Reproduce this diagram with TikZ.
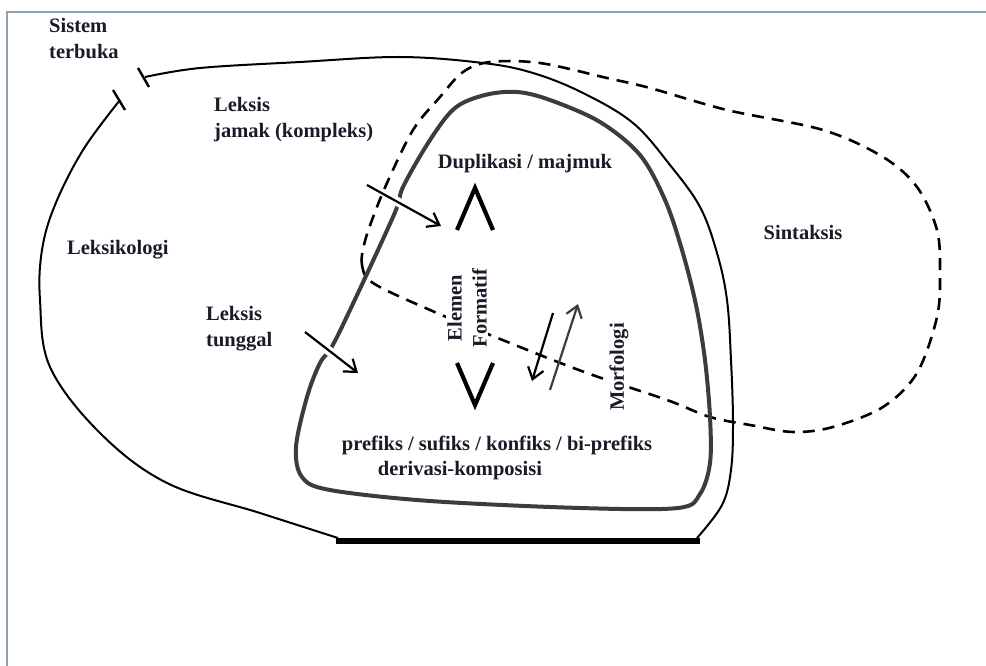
\documentclass[tikz,border=0pt]{standalone}
\usepackage{fontspec}
\setmainfont{Liberation Serif}
\usetikzlibrary{arrows.meta}
\definecolor{txt}{HTML}{1B1B28}
\definecolor{framec}{HTML}{8FA3B3}
\definecolor{thickc}{HTML}{3C3C3C}
\begin{document}
\begin{tikzpicture}[x=1pt,y=-1pt,
  lbl/.style={font=\bfseries\fontsize{20.5}{26}\selectfont, text=txt, inner sep=1pt, align=left},
  clbl/.style={lbl, align=center},
  thinline/.style={line width=2pt, black, line join=round},
  inline/.style={line width=4pt, thickc, line join=round},
  dashline/.style={line width=2.6pt, black, dash pattern=on 12pt off 8pt},
  arr/.style={line width=2.2pt, -{Straight Barb[length=11pt,width=16pt,line width=2.2pt]}},
  chev/.style={line width=4.2pt, black, line join=miter},
  gap/.style={white, line width=9pt},
  tick/.style={line width=2.4pt, black}]
\useasboundingbox (0,0) rectangle (986,666);
\fill[white] (0,0) rectangle (986,666);
% frame
\draw[framec, line width=2pt] (7,666) -- (7,12) -- (986,12);

% outer shape (Leksikologi / Sistem terbuka)
\draw[thinline] plot[smooth, tension=0.6] coordinates {(120,100) (83,150) (55,205) (42,250) (40,300) (50,367) (100,433) (167,483) (260,513) (338,538)};
\draw[thinline] plot[smooth, tension=0.6] coordinates {(697,538) (722,505) (731,470) (733,423) (731,360) (727,300) (717,253) (700,207) (670,165) (633,123) (583,93) (533,73) (483,63) (400,57) (300,62) (200,68) (145,77)};
\draw[black, line width=6pt] (336,541) -- (700,541);
% open ends with ticks
\draw[tick] (113,90) -- (125,110);
\draw[tick] (138,68) -- (149,87);

% dashed shape (Sintaksis)
\draw[dashline] plot[smooth cycle, tension=0.55] coordinates {(373,283) (362,265) (364,245) (372,220) (387,183) (413,130) (440,97) (463,72) (490,62) (540,63) (607,78) (650,88) (727,110) (823,130) (883,157) (917,187) (937,230) (940,273) (937,317) (917,373) (883,407) (833,427) (793,432) (750,425) (710,417) (667,400) (587,373) (510,343) (430,310)};

% inner shape (Morfologi)
\draw[inline] plot[smooth cycle, tension=0.55] coordinates {(403,187) (430,140) (455,108) (485,95) (517,92) (550,100) (600,122) (640,155) (665,200) (682,250) (696,305) (705,360) (710,417) (710,463) (700,494) (678,508) (580,508) (430,501) (330,490) (302,477) (296,447) (307,397) (320,363) (337,337) (393,217)};

% gaps where the arrows cross
\draw[gap] (389,197) -- (409,208);
\draw[gap] (320,344) -- (338,358);

% labels
\node[lbl, anchor=west] (sist) at (48,39) {Sistem\\terbuka};
\node[lbl, anchor=west] (jamak) at (213,120) {Leksis\\jamak (kompleks)};
\node[lbl, anchor=west] (leksi) at (66,250) {Leksikologi};
\node[lbl, anchor=west] (tunggal) at (205,329) {Leksis\\tunggal};
\node[clbl] (dupl) at (525,164) {Duplikasi / majmuk};
\node[clbl, fill=white, rotate=90, font=\bfseries\fontsize{20.5}{25}\selectfont] (elem) at (467,308) {Elemen\\Formatif};
\node[clbl, fill=white, rotate=90] (morf) at (619,367) {Morfologi};
\node[clbl] (sint) at (803,232) {Sintaksis};
\node[clbl] (pref) at (497,445) {prefiks / sufiks / konfiks / bi-prefiks};
\node[clbl] (deriv) at (460,471) {derivasi-komposisi};

% arrows
\coordinate (ja) at (367,185);
\coordinate (jb) at (441,226);
\draw[arr] (ja) -- (jb);
\coordinate (ta) at (305,332);
\coordinate (tb) at (358,373);
\draw[arr] (ta) -- (tb);
\coordinate (ma) at (553,313);
\coordinate (mb) at (532,381);
\draw[arr] (ma) -- (mb);
\coordinate (na) at (550,390);
\coordinate (nb) at (578,304);
\draw[arr, thickc] (na) -- (nb);

% chevrons
\coordinate (u1) at (457,230);
\coordinate (u2) at (475,188);
\coordinate (u3) at (493,230);
\draw[chev] (u1) -- (u2) -- (u3);
\coordinate (d1) at (457,363);
\coordinate (d2) at (475,405);
\coordinate (d3) at (493,363);
\draw[chev] (d1) -- (d2) -- (d3);
\end{tikzpicture}
\end{document}
